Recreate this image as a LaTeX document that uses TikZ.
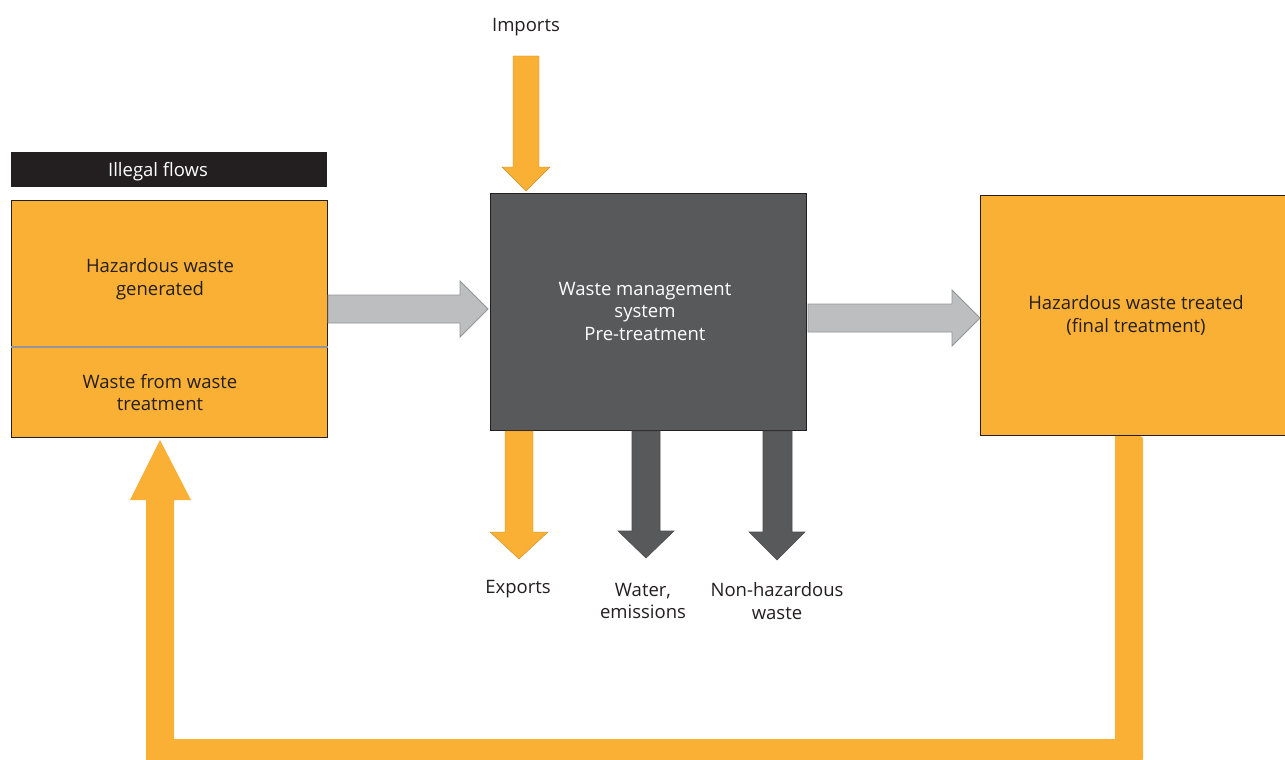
\documentclass[tikz,border=0pt]{standalone}
\usepackage{fontspec}
\setmainfont{Open Sans}
\definecolor{orng}{RGB}{250,176,52}
\definecolor{dgray}{RGB}{88,89,91}
\definecolor{lgray}{RGB}{188,190,192}
\definecolor{mgray}{RGB}{147,149,152}
\definecolor{blk}{RGB}{35,31,32}
\begin{document}
\begin{tikzpicture}[x=1pt,y=-1pt,
  txt/.style={align=center,font=\fontsize{18.5}{22.5}\selectfont,text=blk,inner sep=0pt},
  wtxt/.style={txt,text=white},
  box/.style={draw=blk,line width=1pt,inner sep=0pt},
  garrow/.style={fill=lgray,draw=mgray,line width=0.8pt},
  oarrow/.style={fill=orng,draw=orng!80!black,line width=0.4pt},
  darrow/.style={fill=dgray,draw=blk!80,line width=0.6pt}]
\useasboundingbox (0,0) rectangle (1285,760);
\fill[white] (0,0) rectangle (1285,760);
% boxes
\node[box,fill=orng,minimum width=316pt,minimum height=237pt] (gen) at (169,318.5) {};
\draw[mgray,line width=1.2pt] (gen.west |- 0,347) -- (gen.east |- 0,347);
\node[fill=blk,minimum width=316pt,minimum height=35pt,inner sep=0pt] (ill) at (169,169.5) {};
\node[wtxt] at (158,172) {Illegal flows};
\node[txt] (t1) at (160,279) {Hazardous waste\\generated};
\node[txt] (t2) at (160,392.5) {Waste from waste\\treatment};
\node[box,fill=dgray,minimum width=316pt,minimum height=237pt] (wms) at (648,311.5) {};
\node[wtxt] at (645,311) {Waste management\\system\\Pre-treatment};
\node[box,fill=orng,minimum width=306pt,minimum height=240pt] (fin) at (1133,315) {};
\node[txt] at (1136,315.5) {Hazardous waste treated\\(final treatment)};
% gray arrows
\draw[garrow] (328,295) -- (460,295) -- (460,281) -- (488,309) -- (460,337) -- (460,323) -- (328,323) -- cycle;
\draw[garrow] (808,304) -- (952,304) -- (952,290) -- (980,318) -- (952,346) -- (952,332) -- (808,332) -- cycle;
% imports
\node[txt] (imp) at (526,27.5) {Imports};
\draw[oarrow] (513,56) -- (539,56) -- (539,167) -- (550,167) -- (526,191) -- (502,167) -- (513,167) -- cycle;
% outputs
\draw[oarrow] (505,431) -- (533,431) -- (533,532) -- (548,532) -- (519,559) -- (490,532) -- (505,532) -- cycle;
\draw[darrow] (632,431) -- (660,431) -- (660,531) -- (674,531) -- (646,558) -- (618,531) -- (632,531) -- cycle;
\draw[darrow] (763,431) -- (792,431) -- (792,532) -- (805,532) -- (777,560) -- (749,532) -- (763,532) -- cycle;
\node[txt] (exp) at (518,589.5) {Exports};
\node[txt] (wat) at (643,601) {Water,\\emissions};
\node[txt] (nhw) at (777,601) {Non-hazardous\\waste};
% loop
\fill[orng,rounded corners=3pt] (1115,436) -- (1143,436) -- (1143,762) -- (146,762) [sharp corners]-- (146,500) -- (130,500) -- (160,440) -- (191,500) -- (174,500) -- (174,739) -- (1115,739) -- cycle;
\end{tikzpicture}
\end{document}
